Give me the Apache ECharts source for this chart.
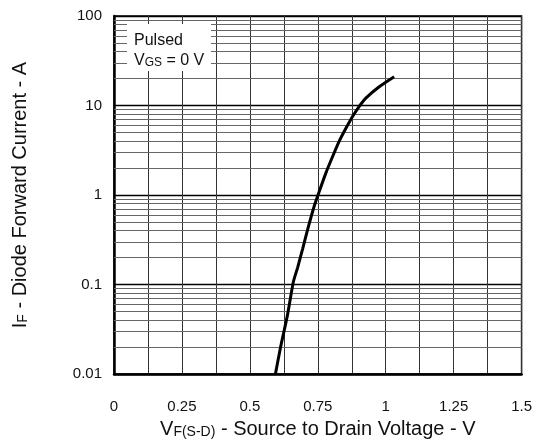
<!DOCTYPE html>
<html>
<head>
<meta charset="utf-8">
<script src="https://cdn.jsdelivr.net/npm/echarts@6/dist/echarts.min.js"></script>
<style>html,body{margin:0;padding:0;background:#fff}#c{width:535px;height:444px}</style>
</head>
<body>
<div id="c"></div>
<script>
// Curve data
var vf = [0.594, 0.612, 0.638, 0.660, 0.676, 0.694, 0.713, 0.737, 0.756, 0.780, 0.805, 0.829, 0.854, 0.878, 0.902, 0.927, 0.976, 1.031];
var iF = [0.010, 0.0193, 0.045, 0.107, 0.156, 0.249, 0.416, 0.755, 1.11, 1.77, 2.71, 4.0, 5.6, 7.55, 9.75, 12.1, 16.2, 21.0];
// Axis ticks
var xTickLabels = ['0', '0.25', '0.5', '0.75', '1', '1.25', '1.5'];
var yTickLabels = ['0.01', '0.1', '1', '10', '100'];
var decades = [0.01, 0.1, 1, 10];
var minorMult = [2, 3, 4, 5, 6, 7, 8, 9];

var minorLines = [];
decades.forEach(function (d) {
  minorMult.forEach(function (m) { minorLines.push({ yAxis: +(d * m).toPrecision(3) }); });
});
var curve = vf.map(function (v, i) { return [v, iF[i]]; });

var font = 'Liberation Sans, Arial, sans-serif';
var chart = echarts.init(document.getElementById('c'), null, { renderer: 'canvas' });
chart.setOption({
  animation: false,
  backgroundColor: '#fff',
  grid: { left: 114, right: 12, top: 16, bottom: 68, show: true, borderColor: '#000', borderWidth: 1.5, backgroundColor: 'transparent' },
  xAxis: {
    type: 'value', min: 0, max: 1.5, interval: 0.125,
    axisLine: { show: true, onZero: false, lineStyle: { color: '#000', width: 2.5 } },
    axisTick: { show: false },
    splitLine: { show: true, lineStyle: { color: '#333', width: 1 } },
    axisLabel: {
      margin: 25, fontFamily: font, fontSize: 15, color: '#111',
      formatter: function (v) {
        var k = v / 0.25, r = Math.round(k);
        return Math.abs(k - r) < 1e-6 ? (xTickLabels[r] || '') : '';
      }
    },
    name: '{m|V}{s|F(S-D)}{m| - Source to Drain Voltage - V}',
    nameLocation: 'middle', nameGap: 44,
    nameTextStyle: {
      rich: {
        m: { fontFamily: font, fontSize: 20, color: '#111' },
        s: { fontFamily: font, fontSize: 14, color: '#111', padding: [6, 0, 0, 0] }
      }
    }
  },
  yAxis: {
    type: 'log', logBase: 10, min: 0.01, max: 100,
    axisLine: { show: true, onZero: false, lineStyle: { color: '#000', width: 2.5 } },
    axisTick: { show: false },
    splitLine: { show: true, lineStyle: { color: '#000', width: 1.4 } },
    axisLabel: {
      margin: 12, fontFamily: font, fontSize: 15, color: '#111',
      formatter: function (v) {
        var idx = Math.round(Math.log10(v)) + 2;
        return yTickLabels[idx] || '';
      }
    },
    name: '{m|I}{s|F}{m| - Diode Forward Current - A}',
    nameLocation: 'middle', nameGap: 84,
    nameTextStyle: {
      rich: {
        m: { fontFamily: font, fontSize: 20, color: '#111' },
        s: { fontFamily: font, fontSize: 14, color: '#111', padding: [6, 0, 0, 0] }
      }
    }
  },
  series: [{
    type: 'line', data: curve, smooth: 0.2, symbol: 'none', z: 10,
    lineStyle: { color: '#000', width: 3 },
    markLine: {
      z: 1, silent: true, symbol: ['none', 'none'], animation: false,
      label: { show: false },
      lineStyle: { color: '#666', width: 1, type: 'solid' },
      emphasis: { disabled: true },
      data: minorLines
    }
  }],
  graphic: [
    { type: 'rect', z: 50, shape: { x: 127, y: 24, width: 84, height: 47 }, style: { fill: '#fff' } },
    { type: 'text', z: 51, x: 134, y: 41, style: { text: 'Pulsed', fontFamily: font, fontSize: 16, fill: '#111', verticalAlign: 'middle' } },
    { type: 'text', z: 51, x: 134, y: 61, style: {
        text: '{m|V}{s|GS}{m| = 0 V}', verticalAlign: 'middle',
        rich: {
          m: { fontFamily: font, fontSize: 16, fill: '#111' },
          s: { fontFamily: font, fontSize: 12, fill: '#111', padding: [4, 0, 0, 0] }
        }
      } }
  ]
});
</script>
</body>
</html>
